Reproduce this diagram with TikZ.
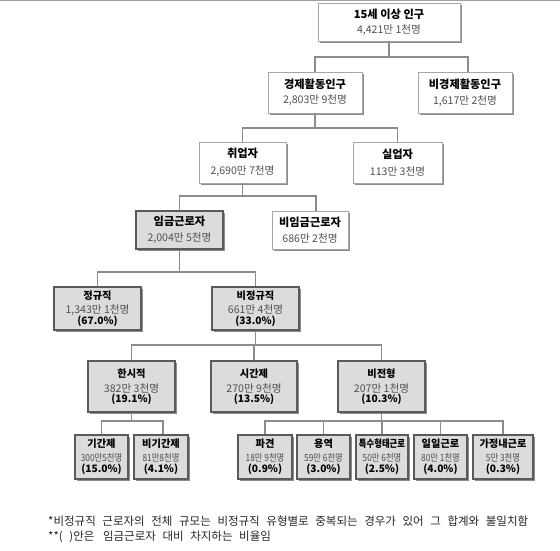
\documentclass[tikz,border=0pt]{standalone}
\usepackage{fontspec}
\setmainfont{Noto Sans CJK KR}
\usetikzlibrary{shadows}
\definecolor{lineg}{HTML}{8C8C8C}
\definecolor{boxg}{HTML}{DCDCDC}
\definecolor{bord}{HTML}{A6A6A6}
\definecolor{dbord}{HTML}{5A5A5A}
\definecolor{numc}{HTML}{505050}
\definecolor{topl}{HTML}{A0A0A0}
\newcommand\ttlA[1]{{\fontsize{11.2}{12}\selectfont\bfseries #1}}
\newcommand\ttlB[1]{{\fontsize{10.2}{12}\selectfont\bfseries #1}}
\newcommand\numA[1]{{\fontsize{10.6}{12}\selectfont\color{numc}#1}}
\newcommand\numS[1]{{\fontsize{9.8}{12}\selectfont\color{numc}\scalebox{0.85}[1]{#1}}}
\newcommand\pctA[1]{{\fontsize{10.2}{12}\selectfont\bfseries #1}}
\newcommand\notefont{\fontsize{11.5}{12}\selectfont\spaceskip 6.6pt\relax}
\tikzset{
 wbox/.style={draw=bord, line width=0.8pt, fill=white,
   drop shadow={shadow xshift=1.6pt, shadow yshift=-1.6pt, fill=black!45, opacity=1},
   inner sep=0pt, align=center, font=\fontsize{10}{12}\selectfont},
 gbox/.style={wbox, draw=dbord, line width=1.2pt, fill=boxg},
 conn/.style={draw=lineg, line width=1.1pt},
 note/.style={anchor=west, inner sep=0pt, font=\notefont, text=black!85},
}
\begin{document}
\begin{tikzpicture}[x=1pt,y=-1pt]
\useasboundingbox (0,0) rectangle (560,551);
\fill[white] (0,0) rectangle (560,551);
\draw[topl, line width=1.5pt] (0,0.75) -- (560,0.75);
% level 0
\node[wbox, minimum width=142pt, minimum height=38pt] (n1) at (389,22) {\ttlA{15세 이상 인구}\\[3pt]\numA{4,421만 1천명}};
% level 1
\node[wbox, minimum width=94pt, minimum height=41pt] (n2) at (315,92.5) {\ttlA{경제활동인구}\\[3pt]\numA{2,803만 9천명}};
\node[wbox, minimum width=94pt, minimum height=41pt] (n3) at (465,92.5) {\ttlA{비경제활동인구}\\[4pt]\numA{1,617만 2천명}};
% level 2
\node[wbox, minimum width=87pt, minimum height=41pt] (n4) at (242.5,162.5) {\ttlA{취업자}\\[5pt]\numA{2,690만 7천명}};
\node[wbox, minimum width=89pt, minimum height=41pt] (n5) at (397.5,162.5) {\ttlA{실업자}\\[5pt]\numA{113만 3천명}};
% level 3
\node[gbox, minimum width=87pt, minimum height=38pt] (n6) at (179.5,230) {\ttlA{임금근로자}\\[4pt]\numA{2,004만 5천명}};
\node[wbox, minimum width=76pt, minimum height=38pt] (n7) at (310,230) {\ttlA{비임금근로자}\\[4pt]\numA{686만 2천명}};
% level 4
\node[gbox, minimum width=87pt, minimum height=43pt] (n8) at (97.5,308.5) {\ttlB{정규직}\\[2pt]\numA{1,343만 1천명}\\[-1.5pt]\pctA{(67.0\%)}};
\node[gbox, minimum width=87pt, minimum height=43pt] (n9) at (255.5,308.5) {\ttlB{비정규직}\\[2pt]\numA{661만 4천명}\\[-1.5pt]\pctA{(33.0\%)}};
% level 5
\node[gbox, minimum width=87pt, minimum height=51pt] (n10) at (131.5,386.5) {\ttlB{한시적}\\[3pt]\numA{382만 3천명}\\[-2pt]\pctA{(19.1\%)}};
\node[gbox, minimum width=86pt, minimum height=51pt] (n11) at (254,386.5) {\ttlB{시간제}\\[3pt]\numA{270만 9천명}\\[-2pt]\pctA{(13.5\%)}};
\node[gbox, minimum width=87pt, minimum height=51pt] (n12) at (381.5,386.5) {\ttlB{비전형}\\[3pt]\numA{207만 1천명}\\[-2pt]\pctA{(10.3\%)}};
% level 6
\node[gbox, minimum width=53pt, minimum height=44pt] (n13) at (101.5,457) {\ttlB{기간제}\\[2pt]\numS{300만5천명}\\[-1pt]\pctA{(15.0\%)}};
\node[gbox, minimum width=54pt, minimum height=44pt] (n14) at (161,457) {\ttlB{비기간제}\\[2pt]\numS{81만8천명}\\[-1pt]\pctA{(4.1\%)}};
\node[gbox, minimum width=54pt, minimum height=44pt] (n15) at (265,457) {\ttlB{파견}\\[2pt]\numS{18만 9천명}\\[-1pt]\pctA{(0.9\%)}};
\node[gbox, minimum width=53pt, minimum height=44pt] (n16) at (323.5,457) {\ttlB{용역}\\[2pt]\numS{59만 6천명}\\[-1pt]\pctA{(3.0\%)}};
\node[gbox, minimum width=52pt, minimum height=44pt] (n17) at (382,457) {\ttlB{\scalebox{0.82}[1]{특수형태근로}}\\[2pt]\numS{50만 6천명}\\[-1pt]\pctA{(2.5\%)}};
\node[gbox, minimum width=53pt, minimum height=44pt] (n18) at (440.5,457) {\ttlB{일일근로}\\[2pt]\numS{80만 1천명}\\[-1pt]\pctA{(4.0\%)}};
\node[gbox, minimum width=60pt, minimum height=44pt] (n19) at (503,457) {\ttlB{가정내근로}\\[2pt]\numS{5만 3천명}\\[-1pt]\pctA{(0.3\%)}};
% junction heights
\coordinate (h1) at (0,57);
\coordinate (h2) at (0,128);
\coordinate (h3) at (0,196);
\coordinate (h4) at (0,272);
\coordinate (h5) at (0,345);
\coordinate (h6) at (0,421);
% connectors
\draw[conn] (n1.south) -- (n1.south |- h1);
\draw[conn] (n2.north) -- (n2.north |- h1) -- ([xshift=3pt]n3.north |- h1) -- ([xshift=3pt]n3.north);
\draw[conn] (n2.south) -- (n2.south |- h2);
\draw[conn] (n4.north) -- (n4.north |- h2) -- (n5.north |- h2) -- (n5.north);
\draw[conn] (n4.south) -- (n4.south |- h3);
\draw[conn] (n6.north) -- (n6.north |- h3) -- ([xshift=6pt]n7.north |- h3) -- ([xshift=6pt]n7.north);
\draw[conn] (n6.south) -- (n6.south |- h4);
\draw[conn] (n8.north) -- (n8.north |- h4) -- (n9.north |- h4) -- (n9.north);
\draw[conn] (n9.south) -- (n9.south |- h5);
\draw[conn] (n10.north) -- (n10.north |- h5) -- (n12.north |- h5) -- (n12.north);
\draw[conn] (n11.north) -- (n11.north |- h5);
\draw[conn] (n10.south) -- (n10.south |- h6);
\draw[conn] (n13.north) -- (n13.north |- h6) -- ([xshift=2pt]n14.north |- h6) -- ([xshift=2pt]n14.north);
\draw[conn] (n12.south) -- (n12.south |- h6);
\draw[conn] (n15.north) -- (n15.north |- h6) -- (n19.north |- h6) -- (n19.north);
\draw[conn] (n16.north) -- (n16.north |- h6);
\draw[conn] (n17.north) -- (n17.north |- h6);
\draw[conn] (n18.north) -- (n18.north |- h6);
% notes
\node[note] (f1) at (48,521) {*비정규직 근로자의 전체 규모는 비정규직 유형별로 중복되는 경우가 있어 그 합계와 불일치함};
\node[note] (f2) at (48,537) {**( )안은\hspace{2pt} 임금근로자 대비 차지하는 비율임};
\end{tikzpicture}
\end{document}
